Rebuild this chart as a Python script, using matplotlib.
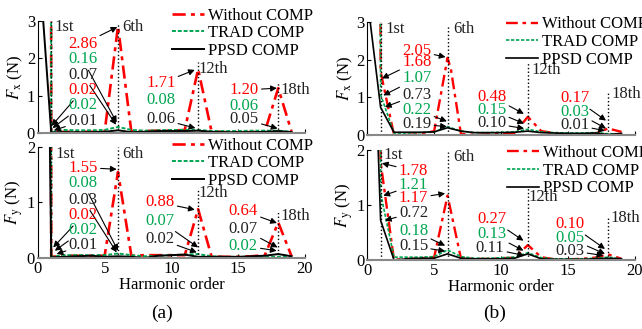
import numpy as np
import matplotlib
matplotlib.use("Agg")
import matplotlib.pyplot as plt

plt.rcParams['font.family'] = ['Liberation Serif', 'DejaVu Serif']
plt.rcParams['mathtext.fontset'] = 'stix'
plt.rcParams['font.size'] = 12

# ---------------- data ----------------
h = list(range(2, 20))  # harmonic orders 2..19

# panel (a) Fx
a_fx_k_x = [0, 1] + h
a_fx_k = [5.0, 0.01, 0.02, 0.02, 0.02, 0.03, 0.07, 0.02, 0.03, 0.05, 0.05, 0.05, 0.06, 0.03, 0.02, 0.02, 0.02, 0.03, 0.05, 0.02]
a_fx_g_x = [0.9, 1] + h
a_fx_g = [35, 0.02, 0.08, 0.07, 0.07, 0.08, 0.16, 0.08, 0.06, 0.07, 0.08, 0.08, 0.08, 0.05, 0.05, 0.05, 0.06, 0.06, 0.06, 0.03]
a_fx_r_x = [0.88, 1] + h
a_fx_r = [40, 0.02, 0.03, 0.03, 0.03, 0.03, 2.86, 0.03, 0.05, 0.06, 0.06, 0.08, 1.71, 0.05, 0.02, 0.02, 0.02, 0.04, 1.20, 0.03]

# panel (a) Fy
a_fy_k_x = [0.85, 1] + h
a_fy_k = [3, 0.01, 0.02, 0.03, 0.04, 0.02, 0.03, 0.02, 0.00, 0.04, 0.05, 0.06, 0.02, 0.02, 0.02, 0.02, 0.03, 0.04, 0.07, 0.03]
a_fy_g_x = [0.87, 1] + h
a_fy_g = [40, 0.02, 0.05, 0.05, 0.05, 0.05, 0.08, 0.05, 0.03, 0.04, 0.05, 0.06, 0.07, 0.03, 0.02, 0.02, 0.02, 0.02, 0.02, 0.02]
a_fy_r_x = [0.85, 1] + h
a_fy_r = [40, 0.02, 0.04, 0.04, 0.04, 0.04, 1.55, 0.04, 0.05, 0.05, 0.05, 0.05, 0.88, 0.03, 0.02, 0.02, 0.03, 0.05, 0.64, 0.03]

# panel (b) Fx
b_fx_k_x = [0, 1] + h
b_fx_k = [3.65, 0.73, 0.07, 0.07, 0.07, 0.08, 0.19, 0.10, 0.06, 0.06, 0.06, 0.07, 0.10, 0.06, 0.05, 0.04, 0.04, 0.05, 0.01, 0.04]
b_fx_g_x = [0.8, 1] + h
b_fx_g = [30, 1.07, 0.05, 0.05, 0.06, 0.08, 0.22, 0.10, 0.06, 0.06, 0.07, 0.08, 0.15, 0.08, 0.06, 0.05, 0.05, 0.06, 0.03, 0.03]
b_fx_r_x = [0.8, 1, 2, 3, 4, 5, 6, 6.25, 7, 8, 9, 10, 11, 12, 13, 14, 15, 16, 17, 18, 19]
b_fx_r = [30, 1.68, 0.0, 0.0, 0.02, 0.10, 2.05, 1.75, 0.03, 0.0, 0.02, 0.03, 0.05, 0.48, 0.10, 0.05, 0.0, 0.0, 0.03, 0.17, 0.08]

# panel (b) Fy
b_fy_k_x = [0.75, 1] + h
b_fy_k = [2.5, 0.72, 0.0, 0.02, 0.03, 0.03, 0.11, 0.03, 0.02, 0.02, 0.02, 0.03, 0.11, 0.02, 0.01, 0.01, 0.01, 0.02, 0.03, 0.02]
b_fy_g_x = [0.8, 1] + h
b_fy_g = [30, 1.21, 0.05, 0.05, 0.05, 0.06, 0.18, 0.06, 0.03, 0.03, 0.04, 0.05, 0.13, 0.04, 0.02, 0.02, 0.02, 0.03, 0.05, 0.02]
b_fy_r_x = [0.8, 1] + h
b_fy_r = [30, 1.78, 0.0, 0.02, 0.03, 0.05, 1.17, 0.03, 0.02, 0.02, 0.03, 0.04, 0.27, 0.05, 0.01, 0.01, 0.02, 0.04, 0.10, 0.02]

legend_labels = ["Without COMP", "TRAD COMP", "PPSD COMP"]
orders = [1, 6, 12, 18]
order_labels = ["1st", "6th", "12th", "18th"]

RED = '#ff0000'
GREEN = '#00a651'
BLACK = '#222222'

# annotations: (text, colour, text xy, arrow tip xy or None)
ann_a_fx = [
    ("2.86", RED, (3.35, 2.38), (5.95, 2.84)),
    ("0.16", GREEN, (3.35, 1.97), (5.9, 0.28)),
    ("0.07", BLACK, (3.35, 1.56), (5.85, 0.22)),
    ("0.02", RED, (3.35, 1.15), (1.03, 0.19)),
    ("0.02", GREEN, (3.35, 0.74), (1.1, 0.13)),
    ("0.01", BLACK, (3.35, 0.32), (1.2, 0.07)),
    ("1.71", RED, (9.2, 1.33), (11.75, 1.69)),
    ("0.08", GREEN, (9.2, 0.88), None),
    ("0.06", BLACK, (9.2, 0.37), (11.8, 0.13)),
    ("1.20", RED, (15.45, 1.15), (17.9, 1.2)),
    ("0.06", GREEN, (15.45, 0.72), None),
    ("0.05", BLACK, (15.45, 0.37), (17.95, 0.12)),
]
ann_a_fy = [
    ("1.55", RED, (3.39, 1.63), (5.9, 1.60)),
    ("0.08", GREEN, (3.39, 1.35), (6.0, 0.13)),
    ("0.03", BLACK, (3.39, 1.05), (5.9, 0.10)),
    ("0.02", RED, (3.39, 0.77), (1.15, 0.19)),
    ("0.02", GREEN, (3.39, 0.50), (1.27, 0.13)),
    ("0.01", BLACK, (3.39, 0.23), (1.4, 0.07)),
    ("0.88", RED, (9.14, 1.0), (11.75, 0.87)),
    ("0.07", GREEN, (9.14, 0.67), (12.0, 0.19)),
    ("0.02", BLACK, (9.14, 0.34), (11.9, 0.10)),
    ("0.64", RED, (15.38, 0.85), (17.9, 0.63)),
    ("0.07", BLACK, (15.38, 0.52), (17.95, 0.19)),
    ("0.02", GREEN, (15.38, 0.22), (17.88, 0.13)),
]
ann_b_fx = [
    ("2.05", RED, (3.71, 2.23), (5.85, 2.07)),
    ("1.68", RED, (3.71, 1.95), (1.1, 1.50)),
    ("1.07", GREEN, (3.71, 1.50), (1.2, 1.05)),
    ("0.73", BLACK, (3.71, 1.06), (1.32, 0.74)),
    ("0.22", GREEN, (3.71, 0.66), (5.95, 0.36)),
    ("0.19", BLACK, (3.71, 0.29), (5.95, 0.22)),
    ("0.48", RED, (9.3, 1.02), (11.7, 0.56)),
    ("0.15", GREEN, (9.3, 0.66), (11.72, 0.30)),
    ("0.10", BLACK, (9.3, 0.31), (11.72, 0.17)),
    ("0.17", RED, (15.5, 0.97), (17.84, 0.38)),
    ("0.03", GREEN, (15.5, 0.62), (17.84, 0.17)),
    ("0.01", BLACK, (15.5, 0.27), (17.76, 0.11)),
]
ann_b_fy = [
    ("1.78", RED, (3.46, 1.62), (1.1, 1.76)),
    ("1.21", GREEN, (3.46, 1.36), (1.2, 1.17)),
    ("1.17", RED, (3.46, 1.12), (5.82, 1.21)),
    ("0.72", BLACK, (3.46, 0.86), (1.32, 0.72)),
    ("0.18", GREEN, (3.46, 0.53), (5.82, 0.26)),
    ("0.15", BLACK, (3.46, 0.25), (5.82, 0.16)),
    ("0.27", RED, (9.3, 0.74), (11.67, 0.35)),
    ("0.13", GREEN, (9.3, 0.47), (11.67, 0.17)),
    ("0.11", BLACK, (9.18, 0.21), (11.72, 0.08)),
    ("0.10", RED, (15.15, 0.65), (17.76, 0.20)),
    ("0.05", GREEN, (15.15, 0.39), (17.76, 0.11)),
    ("0.03", BLACK, (15.15, 0.17), (17.64, 0.08)),
]

# ---------------- figure ----------------
fig = plt.figure(figsize=(6.42, 3.29), dpi=100)

axes_pos = {
    'a_fx': [0.059, 0.596, 0.416, 0.340],
    'a_fy': [0.059, 0.216, 0.416, 0.337],
    'b_fx': [0.572, 0.590, 0.417, 0.343],
    'b_fy': [0.572, 0.210, 0.417, 0.334],
}


def draw(key, kx, ky, gx, gy, rx, ry, ymax, ylab, ann, order_pos, leg_anchor, lw):
    ax = fig.add_axes(axes_pos[key])
    ax.plot(rx, ry, color=RED, lw=lw + 0.5, ls=(0, (5, 2, 1.5, 2)), label=legend_labels[0])
    ax.plot(gx, gy, color=GREEN, lw=lw, ls=(0, (2, 1)), label=legend_labels[1])
    ax.plot(kx, ky, color='k', lw=lw, label=legend_labels[2])
    ax.set_xlim(0, 20)
    ax.set_ylim(0, ymax)
    ax.spines['top'].set_visible(False)
    ax.spines['right'].set_visible(False)
    ax.spines['bottom'].set_color('#888888')
    ax.spines['bottom'].set_linewidth(1.5)
    ax.set_xticks([0, 5, 10, 15, 20])
    ax.set_yticks(range(0, ymax + 1))
    ax.tick_params(direction='in', length=3, labelsize=12, pad=2)
    ax.set_ylabel(ylab, fontsize=12, labelpad=1)
    # guide lines
    for o, lab, (tx, ty, top) in zip(orders, order_labels, order_pos):
        ax.plot([o, o], [0, top], color='k', ls=':', lw=1)
        ax.text(tx, ty, lab, ha='center', va='center', fontsize=12, color=BLACK)
    for txt, col, xyt, tip in ann:
        if tip is None:
            ax.text(xyt[0], xyt[1], txt, color=col, ha='center', va='center', fontsize=12)
        else:
            ax.annotate(txt, xy=tip, xytext=xyt, color=col, ha='center', va='center',
                        fontsize=12,
                        arrowprops=dict(arrowstyle='-|>', color='k', lw=0.8,
                                        mutation_scale=9, shrinkA=0, shrinkB=0))
    ax.legend(loc='upper right', bbox_to_anchor=leg_anchor, frameon=False, fontsize=12,
              handlelength=1.9, handletextpad=0.25, labelspacing=0.1, borderpad=0,
              borderaxespad=0)
    return ax


ax1 = draw('a_fx', a_fx_k_x, a_fx_k, a_fx_g_x, a_fx_g, a_fx_r_x, a_fx_r, 3,
           r'$F_{\mathrm{x}}$ (N)', ann_a_fx,
           [(2.0, 2.85, 3), (7.14, 2.83, 2.95), (13.1, 1.71, 1.91), (19.25, 1.15, 1.34)],
           (1.03, 1.12), 1.4)
ax2 = draw('a_fy', a_fy_k_x, a_fy_k, a_fy_g_x, a_fy_g, a_fy_r_x, a_fy_r, 2,
           r'$F_{\mathrm{y}}$ (N)', ann_a_fy,
           [(2.02, 1.87, 2), (7.14, 1.87, 2), (13.13, 1.18, 1.27), (19.25, 0.76, 0.85)],
           (1.03, 1.085), 1.4)
ax3 = draw('b_fx', b_fx_k_x, b_fx_k, b_fx_g_x, b_fx_g, b_fx_r_x, b_fx_r, 3,
           r'$F_{\mathrm{x}}$ (N)', ann_b_fx,
           [(2.09, 2.81, 3), (7.19, 2.81, 2.9), (13.4, 1.73, 1.95), (19.38, 1.1, 1.15)],
           (1.045, 1.05), 1.2)
ax4 = draw('b_fy', b_fy_k_x, b_fy_k, b_fy_g_x, b_fy_g, b_fy_r_x, b_fy_r, 2,
           r'$F_{\mathrm{y}}$ (N)', ann_b_fy,
           [(1.97, 1.91, 2), (7.19, 1.88, 1.97), (13.16, 1.15, 1.3), (19.25, 0.76, 0.76)],
           (1.05, 1.045), 1.2)

for ax in (ax1, ax3):
    ax.tick_params(labelbottom=False)
for ax in (ax2, ax4):
    ax.set_xlabel('Harmonic order', fontsize=12, labelpad=0)

fig.text(0.252, 0.049, '(a)', ha='center', va='center', fontsize=14)
fig.text(0.771, 0.049, '(b)', ha='center', va='center', fontsize=14)

fig.savefig('out.png', dpi=100)
